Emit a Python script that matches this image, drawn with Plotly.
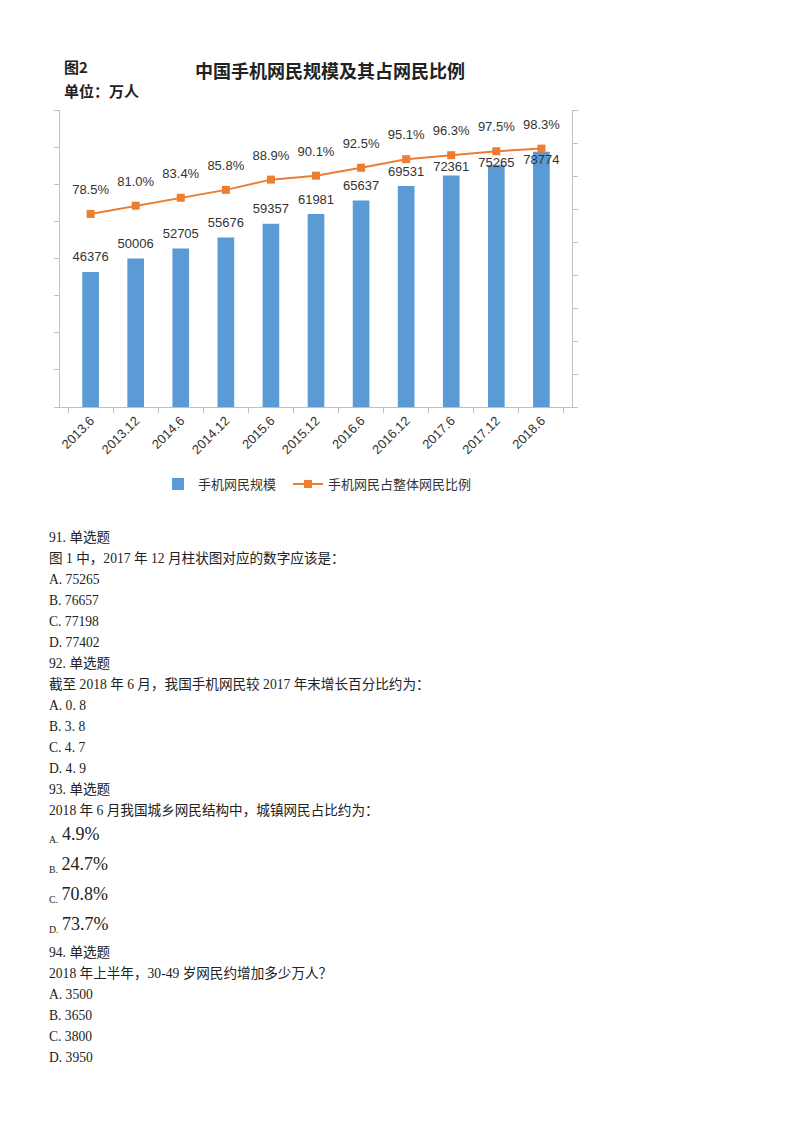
import plotly.graph_objects as go

# // data
periods = ["2013.6", "2013.12", "2014.6", "2014.12", "2015.6", "2015.12",
           "2016.6", "2016.12", "2017.6", "2017.12", "2018.6"]
mobile_users = [46376, 50006, 52705, 55676, 59357, 61981,
                65637, 69531, 72361, 75265, 78774]
mobile_share = [78.5, 81.0, 83.4, 85.8, 88.9, 90.1,
                92.5, 95.1, 96.3, 97.5, 98.3]

questions = [
    "91. 单选题",
    "图 1 中，2017 年 12 月柱状图对应的数字应该是：",
    "A. 75265", "B. 76657", "C. 77198", "D. 77402",
    "92. 单选题",
    "截至 2018 年 6 月，我国手机网民较 2017 年末增长百分比约为：",
    "A. 0. 8", "B. 3. 8", "C. 4. 7", "D. 4. 9",
    "93. 单选题",
    "2018 年 6 月我国城乡网民结构中，城镇网民占比约为：",
]
q93_options = [("A.", "4.9%"), ("B.", "24.7%"), ("C.", "70.8%"), ("D.", "73.7%")]
q94_lines = [
    "94. 单选题",
    "2018 年上半年，30-49 岁网民约增加多少万人？",
    "A. 3500", "B. 3650", "C. 3800", "D. 3950",
]

W, H = 800, 1132
PAGE = 8  # body margin of the html page
blue = "#5B9BD5"
orange = "#ED7D31"
grey = "#BFBFBF"
txt = "#333333"
chart_font = "Liberation Sans, Noto Sans CJK SC"
doc_font = "Liberation Serif, Noto Sans CJK SC"

left_range = [10000, 90000]
right_range = [20, 110]


def px_x(p):
    return (p - PAGE) / W


def px_y(p):
    return 1 - (p - PAGE) / H


# // label heights: above the bar, but kept clear of the share line
def share_on_left(p):
    return left_range[0] + (p - right_range[0]) / (right_range[1] - right_range[0]) * (left_range[1] - left_range[0])


bar_label_y = [min(v + 3700, share_on_left(p) - 3300) for v, p in zip(mobile_users, mobile_share)]
share_label_y = [p + 7 for p in mobile_share]

fig = go.Figure()
fig.add_trace(go.Bar(
    x=periods, y=mobile_users, name="手机网民规模",
    marker=dict(color=blue, line=dict(width=0)),
    yaxis="y", legend="legend"))
fig.add_trace(go.Scatter(
    x=periods, y=bar_label_y, mode="text",
    text=[str(v) for v in mobile_users],
    textfont=dict(family=chart_font, size=13, color=txt),
    showlegend=False, cliponaxis=False, yaxis="y"))
fig.add_trace(go.Scatter(
    x=periods, y=mobile_share, name="手机网民占整体网民比例",
    mode="lines+markers",
    line=dict(color=orange, width=2),
    marker=dict(symbol="square", size=8, color=orange),
    yaxis="y2", legend="legend2"))
fig.add_trace(go.Scatter(
    x=periods, y=share_label_y, mode="text",
    text=[f"{p:.1f}%" for p in mobile_share],
    textfont=dict(family=chart_font, size=13, color=txt),
    showlegend=False, cliponaxis=False, yaxis="y2"))

# // header + question text
ann = [
    dict(text="<b>图2</b>", x=px_x(62), y=px_y(66), xanchor="left",
         font=dict(family="Noto Sans CJK SC", size=15, color="#222222")),
    dict(text="<b>单位：万人</b>", x=px_x(62), y=px_y(91), xanchor="left",
         font=dict(family="Noto Sans CJK SC", size=15, color="#222222")),
    dict(text="<b>中国手机网民规模及其占网民比例</b>", x=px_x(330), y=px_y(70), xanchor="center",
         font=dict(family="Noto Sans CJK SC", size=18, color="#222222")),
]
y0 = 537
for i, line in enumerate(questions):
    ann.append(dict(text=line, x=px_x(47), y=px_y(y0 + i * 21), xanchor="left",
                    font=dict(family=doc_font, size=13.6, color="#222222")))
opt_y = [834, 864, 894, 924]
for (lab, val), yy in zip(q93_options, opt_y):
    ann.append(dict(text=f"<sub>{lab}</sub> <span style='font-size:18px'>{val}</span>",
                    x=px_x(47), y=px_y(yy), xanchor="left",
                    font=dict(family=doc_font, size=14, color="#222222")))
for i, line in enumerate(q94_lines):
    ann.append(dict(text=line, x=px_x(47), y=px_y(952 + i * 21), xanchor="left",
                    font=dict(family=doc_font, size=13.6, color="#222222")))
for a in ann:
    a.update(xref="paper", yref="paper", yanchor="middle", showarrow=False)

legend_font = dict(family="Noto Sans CJK SC", size=13, color=txt)
fig.update_layout(
    width=W, height=H,
    margin=dict(l=0, r=0, t=0, b=0),
    paper_bgcolor="white", plot_bgcolor="white",
    bargap=0.63,
    showlegend=True,
    legend=dict(orientation="h", x=px_x(158), y=px_y(484), xanchor="left", yanchor="middle",
                font=legend_font, itemwidth=30),
    legend2=dict(orientation="h", x=px_x(288), y=px_y(484), xanchor="left", yanchor="middle",
                 font=legend_font, itemwidth=30),
    xaxis=dict(domain=[px_x(60), px_x(572)], type="category",
               showline=True, linecolor=grey, linewidth=1,
               ticks="outside", tickson="boundaries", ticklen=5, tickcolor=grey,
               tickangle=-45, tickfont=dict(family=chart_font, size=13, color=txt),
               showgrid=False, zeroline=False),
    yaxis=dict(domain=[px_y(407), px_y(110)], range=left_range, dtick=10000,
               showline=True, linecolor=grey, linewidth=1,
               ticks="outside", ticklen=5, tickcolor=grey,
               showticklabels=False, showgrid=False, zeroline=False),
    yaxis2=dict(overlaying="y", side="right", range=right_range, dtick=10,
                showline=True, linecolor=grey, linewidth=1,
                ticks="outside", ticklen=5, tickcolor=grey,
                showticklabels=False, showgrid=False, zeroline=False),
    annotations=ann,
)

fig.write_html("out.html")
